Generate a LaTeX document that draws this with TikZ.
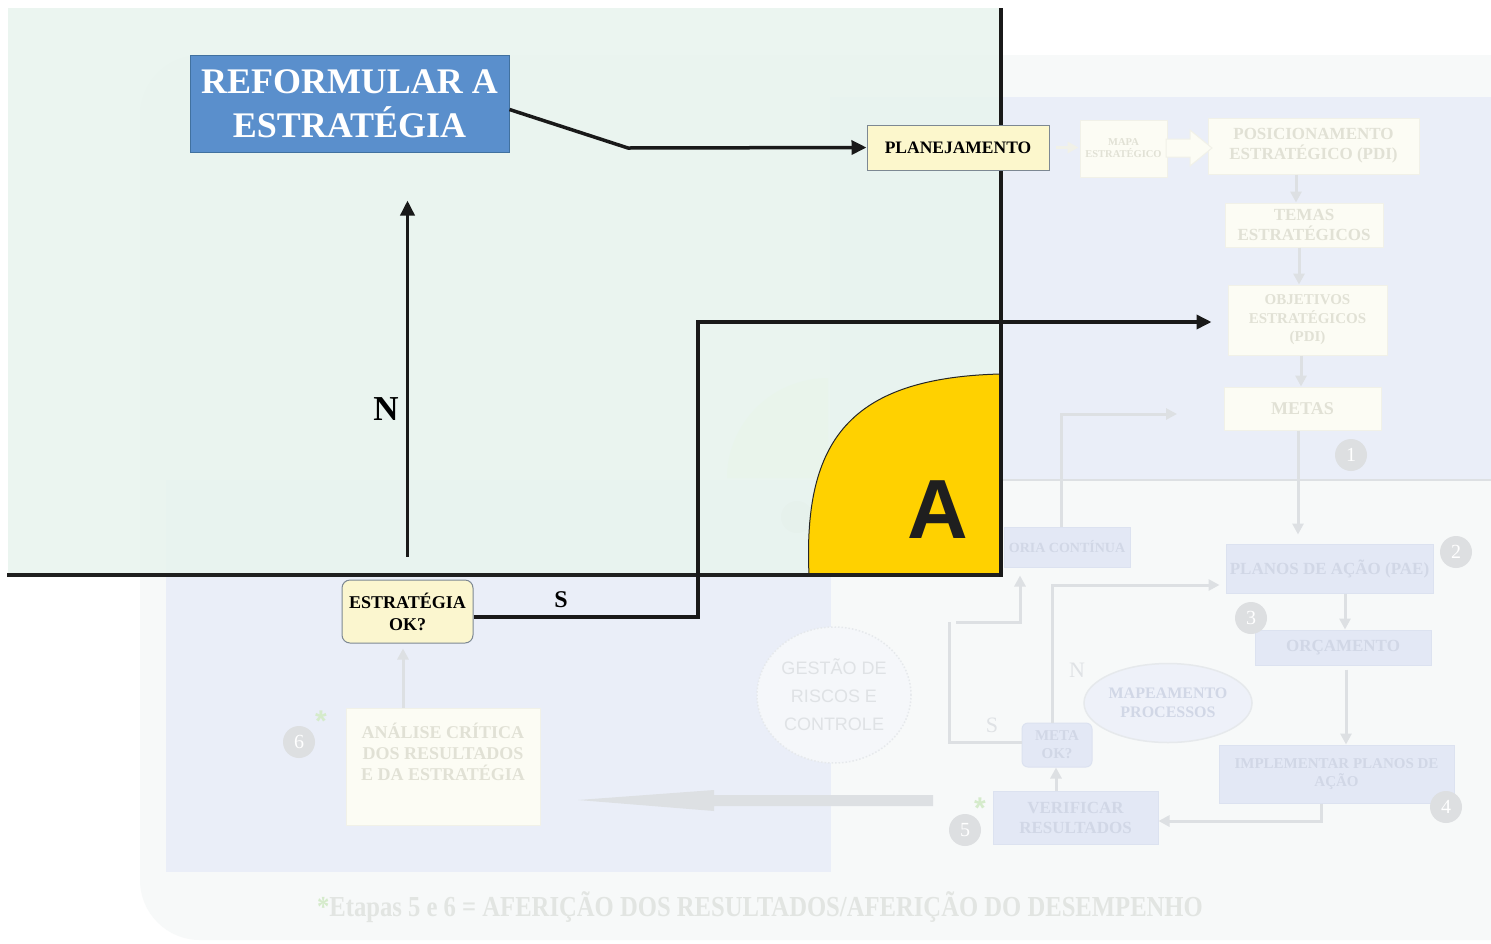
\documentclass[tikz,border=0pt]{standalone}
\usepackage{fontspec}
\setmainfont{Liberation Serif}
\newfontfamily\sansfam{Liberation Sans}
\usetikzlibrary{arrows.meta,shapes.geometric}
\definecolor{slidebg}{HTML}{F7F9F9}
\definecolor{panel}{HTML}{EAEEF8}
\definecolor{overlayc}{HTML}{E8F4EE}
\definecolor{reformfill}{HTML}{5A8FCC}
\definecolor{reformdraw}{HTML}{41719F}
\definecolor{planfill}{HTML}{FCF7CC}
\definecolor{boxdraw}{HTML}{7D8893}
\definecolor{eokfill}{HTML}{FBF6CF}
\definecolor{yellowA}{HTML}{FFD100}
\definecolor{fadeivory}{HTML}{FCFCF4}
\definecolor{fadeivoryline}{HTML}{F1F1E8}
\definecolor{fadetext}{HTML}{E1E1D5}
\definecolor{fadebluefill}{HTML}{E3E8F5}
\definecolor{fadeblueline}{HTML}{DCE2F0}
\definecolor{fadebluetext}{HTML}{D1D7E6}
\definecolor{fadegray}{HTML}{DDE0E3}
\definecolor{numgray}{HTML}{DDDFE1}
\definecolor{astgreen}{HTML}{D5EBCB}
\definecolor{gestfill}{HTML}{F5F7FA}
\definecolor{gestline}{HTML}{E6E9EC}
\definecolor{gesttext}{HTML}{DFE2E5}
\definecolor{footertext}{HTML}{E2E5E2}
\definecolor{arcfill}{HTML}{F6F8DC}
\tikzset{
  fadebox/.style={draw=fadeivoryline, fill=fadeivory, text=fadetext, align=center, inner sep=0pt, line width=1pt},
  fadeblue/.style={draw=fadeblueline, fill=fadebluefill, text=fadebluetext, align=center, inner sep=0pt, line width=1pt},
  fadearrow/.style={draw=fadegray, line width=3pt, -{Triangle[length=11pt,width=11pt]}},
  numcirc/.style={circle, fill=numgray, text=white, minimum size=32pt, inner sep=0pt, font=\fontsize{20}{20}\selectfont},
  astnode/.style={text=astgreen, font=\sansfam\bfseries\fontsize{30}{30}\selectfont, inner sep=0pt},
  mainarrow/.style={line width=3.5pt, black!90, -{Triangle[length=15pt,width=14pt]}},
  fadelabel/.style={text=gesttext, font=\fontsize{22}{22}\selectfont, inner sep=0pt}
}
\begin{document}
\begin{tikzpicture}[x=1pt,y=-1pt]
\useasboundingbox (0,0) rectangle (1491,943);
\fill[white] (0,0) rectangle (1491,943);
% underlying slide
\fill[slidebg, rounded corners=60pt] (140,55) rectangle (1560,940);
\fill[panel] (830,97) rectangle (1491,480);
\draw[fadegray, line width=2.5pt] (830,480) -- (1491,480);
\fill[panel] (166,480) rectangle (831,872);

% faded top flow
\node[fadebox, minimum width=87pt, minimum height=57pt, font=\bfseries\fontsize{10.5}{12}\selectfont] (mapa) at (1123.5,148.5) {MAPA\\ESTRATÉGICO};
\node[fadebox, minimum width=211pt, minimum height=56pt, font=\bfseries\fontsize{17}{20}\selectfont] (posic) at (1313.5,146) {POSICIONAMENTO\\ESTRATÉGICO (PDI)};
\node[fadebox, minimum width=158pt, minimum height=44pt, font=\bfseries\fontsize{17}{20}\selectfont] (temas) at (1304,225) {TEMAS\\ESTRATÉGICOS};
\node[fadebox, minimum width=159pt, minimum height=70pt, font=\bfseries\fontsize{15}{18.5}\selectfont] (obj) at (1307.5,320) {OBJETIVOS\\ESTRATÉGICOS\\(PDI)};
\node[fadebox, minimum width=157pt, minimum height=43pt, font=\bfseries\fontsize{18}{20}\selectfont] (metas) at (1302.5,408.5) {METAS};
\node[numcirc] (c1) at (1351,455) {1};
% hollow block arrow mapa -> posic
\filldraw[fill=fadeivory, draw=fadeivoryline, line width=1pt] (1166,139) -- (1190,139) -- (1190,130) -- (1212,148) -- (1190,166) -- (1190,157) -- (1166,157) -- cycle;
\coordinate (xa) at (1296,0);
\coordinate (xb) at (1299,0);
\coordinate (xc) at (1301,0);
\coordinate (xd) at (1298,0);
\draw[fadearrow] (posic.south -| xa) -- (temas.north -| xa);
\draw[fadearrow] (temas.south -| xb) -- (obj.north -| xb);
\draw[fadearrow] (obj.south -| xc) -- (metas.north -| xc);

% faded lower-right flow
\node[fadeblue, minimum width=207pt, minimum height=49pt, font=\bfseries\fontsize{17}{20}\selectfont] (pae) at (1329.5,568.5) {PLANOS DE AÇÃO (PAE)};
\node[numcirc] (c2) at (1456,552) {2};
\node[fadeblue, minimum width=176pt, minimum height=35pt, font=\bfseries\fontsize{17}{20}\selectfont] (orc) at (1343,647.5) {ORÇAMENTO};
\node[numcirc] (c3) at (1251,618) {3};
\node[fadeblue, minimum width=235pt, minimum height=58pt, font=\bfseries\fontsize{15}{18}\selectfont] (impl) at (1336.5,774) {IMPLEMENTAR PLANOS DE\\AÇÃO};
\node[numcirc] (c4) at (1446,807) {4};
\node[fadeblue, minimum width=165pt, minimum height=53pt, font=\bfseries\fontsize{17}{20}\selectfont] (verif) at (1075.5,817.5) {VERIFICAR\\RESULTADOS};
\node[numcirc] (c5) at (965,830) {5};
\node[astnode] (ast5) at (980,808) {*};
\node[fadeblue, rounded corners=6pt, minimum width=70pt, minimum height=44pt, font=\bfseries\fontsize{15}{18}\selectfont] (meta) at (1057,745) {META\\OK?};
\node[fadeblue, minimum width=126pt, minimum height=40pt, font=\bfseries\fontsize{14}{16}\selectfont] (melh) at (1067,547) {ORIA CONTÍNUA};
\node[ellipse, fill=fadebluefill!60!white, draw=gestline, line width=1.5pt, minimum width=139pt, minimum height=79pt, inner sep=0pt, align=center, text=fadebluetext, font=\bfseries\fontsize{16}{19}\selectfont] (mapeam) at (1168,703) {MAPEAMENTO\\PROCESSOS};
\node[fadelabel] (lblN2) at (1077,670) {N};
\node[fadelabel] (lblS2) at (992,725) {S};
\coordinate (xe) at (1345,0);
\coordinate (xf) at (1346,0);
\coordinate (xg) at (1056,0);
\draw[fadearrow] (metas.south -| xd) -- ([yshift=9pt]pae.north -| xd);
\draw[fadearrow] (pae.south -| xe) -- (orc.north -| xe);
\draw[fadearrow] ([yshift=-4pt]orc.south -| xf) -- (impl.north -| xf);
\coordinate (i1) at (1321,821);
\draw[fadearrow] (impl.south -| i1) -- (i1) -- (i1 -| verif.east);
\draw[fadearrow] (verif.north -| xg) -- (meta.south -| xg);
\coordinate (n1) at (1052,585);
\draw[fadearrow] (meta.north -| n1) -- (n1) -- ([xshift=-6pt]n1 -| pae.west);
\coordinate (s3) at (949,742);
\coordinate (s4) at (949,622);
\coordinate (s5) at (1020,622);
\draw[draw=fadegray, line width=3pt] (meta.west |- s3) -- (s3) -- (s4);
\draw[fadearrow] (956,622) -- (s5) -- ([yshift=-8pt]s5 |- melh.south);
\coordinate (m1) at (1061,414);
\draw[fadearrow] (melh.north -| m1) -- (m1) -- (1177,414);

% faded lower-left
\node[ellipse, fill=gestfill, draw=gestline, dotted, line width=1.5pt, minimum width=154pt, minimum height=136pt, inner sep=0pt, align=center, text=gesttext, font=\sansfam\fontsize{18}{28}\selectfont] (gest) at (834,695) {GESTÃO DE\\RISCOS E\\CONTROLE};
\node[fadebox, minimum width=194pt, minimum height=117pt, font=\bfseries\fontsize{18}{21}\selectfont] (anal) at (443,766.5) {ANÁLISE CRÍTICA\\DOS RESULTADOS\\E DA ESTRATÉGIA\\[8pt]};
\node[numcirc] (c6) at (299,742) {6};
\node[astnode] (ast6) at (321,721) {*};
\fill[fadegray] (578,800) -- (714,790) -- (714,795) -- (933,795) -- (933,806) -- (714,806) -- (714,811) -- cycle;
\node[text=footertext, font=\bfseries\fontsize{29}{30}\selectfont, xscale=0.85, inner sep=0pt] (footer) at (760,907) {{\color{astgreen}*}Etapas 5 e 6 = AFERIÇÃO DOS RESULTADOS/AFERIÇÃO DO DESEMPENHO};

% things under the overlay
\fill[arcfill] (828,478) -- (727,478) arc[start angle=180, end angle=270, x radius=101, y radius=100] -- cycle;
\fill[numgray] (797,517) circle[radius=16];

% overlay
\fill[overlayc, opacity=0.86] (8,8) rectangle (1001,575);
\filldraw[fill=yellowA, draw=black!85, line width=1pt] (809,575) .. controls (803,440) and (850,378) .. (1000,374) -- (1000,575) -- cycle;
\node[font=\sansfam\bfseries\fontsize{84}{84}\selectfont, text=black!88, inner sep=0pt] (bigA) at (938,510) {A};
\draw[line width=4.5pt, black!88] (7,575) -- (1003,575);
\draw[line width=4pt, black!90] (1001,8) -- (1001,577);

% main nodes
\node[fill=reformfill, draw=reformdraw, line width=1pt, minimum width=319pt, minimum height=97pt, inner sep=0pt, align=center, text=white, font=\bfseries\fontsize{36}{44}\selectfont] (reform) at (349.5,103.5) {REFORMULAR A\\ESTRATÉGIA};
\node[fill=planfill, draw=boxdraw, line width=1pt, minimum width=182pt, minimum height=45pt, inner sep=0pt, font=\bfseries\fontsize{17.5}{20}\selectfont] (plan) at (958,147.5) {PLANEJAMENTO};
\node[fill=eokfill, draw=boxdraw, line width=1pt, rounded corners=8pt, minimum width=131pt, minimum height=63pt, inner sep=0pt, align=center, font=\bfseries\fontsize{18}{22}\selectfont] (eok) at (407.5,611.5) {ESTRATÉGIA\\OK?};
\draw[fadearrow, draw=fadeivoryline] ([xshift=6pt]plan.east) -- ([xshift=-1pt]mapa.west |- plan.east);
\draw[fadearrow] (anal.north -| 403,0) -- ([yshift=-5pt]eok.south -| 403,0);

% main connectors
\coordinate (r1) at (628,148);
\draw[mainarrow, line join=round] ([yshift=-6pt]reform.east) -- (r1) -- (plan.west);
\draw[mainarrow, shorten <=23pt, shorten >=48pt] (eok.north) -- (eok.north |- reform.south);
\node[font=\bfseries\fontsize{35}{35}\selectfont, inner sep=0pt] (lblN) at (386,409) {N};
\coordinate (s1) at (698,617);
\coordinate (s2) at (698,322);
\draw[mainarrow, line join=miter] ([yshift=-5.5pt]eok.east) -- (s1) -- (s2) -- ([xshift=-16pt]s2 -| obj.west);
\node[font=\bfseries\fontsize{24}{24}\selectfont, inner sep=0pt] (lblS) at (561,600) {S};
\end{tikzpicture}
\end{document}
